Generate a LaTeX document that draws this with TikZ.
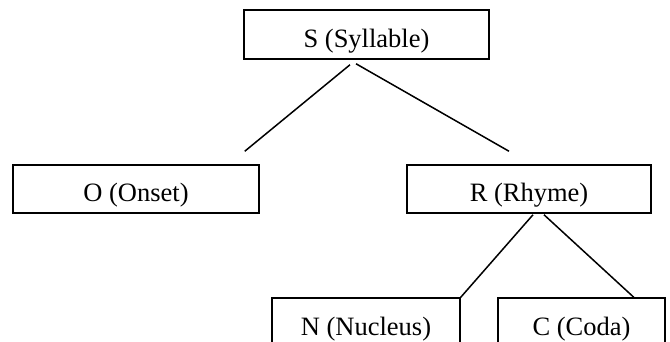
\documentclass[tikz,border=0pt]{standalone}
\usepackage{fontspec}
\setmainfont{Liberation Serif}
\begin{document}
\begin{tikzpicture}[x=1pt,y=-1pt,
  box/.style={draw, line width=1.5pt, inner sep=0pt, text height=25pt, text depth=0pt,
    minimum height=48pt, font=\fontsize{26.5}{30}\selectfont},
  link/.style={line width=1.5pt}]
\useasboundingbox (0,0) rectangle (670,341);
\node[box, minimum width=245pt, minimum height=49pt] (S) at (366.5,34.5) {S (Syllable)};
\node[box, minimum width=246pt] (O) at (136,189) {O (Onset)};
\node[box, minimum width=244pt] (R) at (529,189) {R (Rhyme)};
\node[box, minimum width=188pt, minimum height=49pt] (N) at (366,322.5) {N (Nucleus)};
\node[box, minimum width=167pt, minimum height=49pt] (C) at (581.5,322.5) {C (Coda)};
\coordinate (s1) at ([xshift=-16.5pt,yshift=-5pt]S.south);
\coordinate (s2) at ([xshift=-10.5pt,yshift=-4pt]S.south);
\coordinate (o1) at ([xshift=-15pt,yshift=13pt]O.north east);
\coordinate (r1) at ([xshift=-20pt,yshift=13pt]R.north);
\coordinate (r2) at ([xshift=4pt,yshift=-1pt]R.south);
\coordinate (r3) at ([xshift=15pt,yshift=-1pt]R.south);
\coordinate (c1) at ([xshift=-32pt]C.north east);
\draw[link] (s1) -- (o1);
\draw[link] (s2) -- (r1);
\draw[link] (r2) -- (N.north east);
\draw[link] (r3) -- (c1);
\end{tikzpicture}
\end{document}
